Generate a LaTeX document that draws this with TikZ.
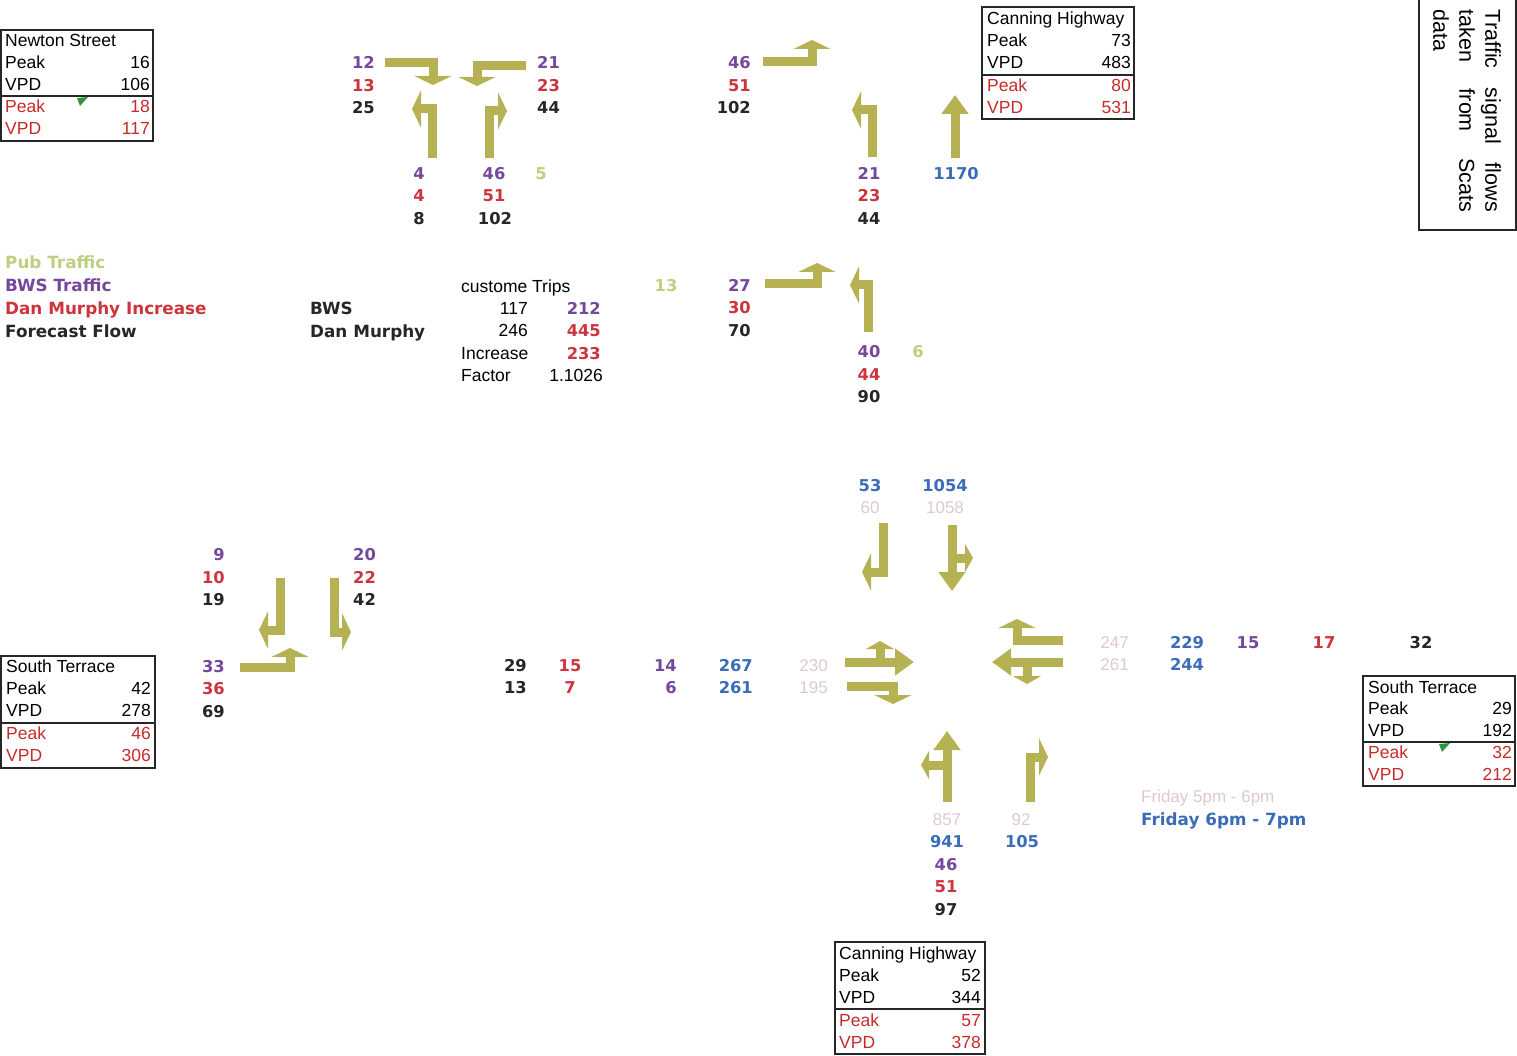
\documentclass[tikz,border=0pt]{standalone}
\usepackage{fontspec}
\setmainfont{Liberation Sans}
\newfontfamily\dejavu{DejaVu Sans}
\usepackage{tikz}
\usetikzlibrary{arrows.meta, positioning}
\usepackage{xcolor}
\definecolor{LaneOlive}{RGB}{182,178,84}
\definecolor{PubGreen}{RGB}{188,208,128}
\definecolor{BwsPurple}{RGB}{118,72,156}
\definecolor{DmRed}{RGB}{206,52,62}
\definecolor{FlowBlack}{RGB}{38,38,38}
\definecolor{ScatsBlue}{RGB}{58,108,186}
\definecolor{FadedPink}{RGB}{222,200,212}
\definecolor{BoxRed}{RGB}{200,42,42}
\definecolor{NoteGreen}{RGB}{40,150,60}

\begin{document}
\begin{tikzpicture}[
  x=1pt, y=-1pt,
  cell/.style={inner sep=0pt, text height=11pt, text depth=0pt},
  plain/.style={cell, font=\fontsize{17.5}{17.5}\selectfont, text=black},
  rplain/.style={plain, text=BoxRed},
  fig/.style={cell, font=\dejavu\bfseries\fontsize{16.3}{16.3}\selectfont},
  key/.style={fig, font=\dejavu\bfseries\fontsize{16.8}{16.8}\selectfont},
  pub/.style={fig, text=PubGreen},
  bws/.style={fig, text=BwsPurple},
  dm/.style={fig, text=DmRed},
  fc/.style={fig, text=FlowBlack},
  scats/.style={fig, text=ScatsBlue},
  old/.style={cell, font=\fontsize{17}{17}\selectfont, text=FadedPink},
  roadbox/.style={draw=black!85, line width=1.1pt},
  lane/.style={draw=LaneOlive, line width=9pt},
  turn/.style={lane, -{Triangle[length=9pt, width=37pt]}},
  branch/.style={lane, -{Triangle[length=8pt, width=28pt]}},
  thru/.style={lane, -{Triangle[length=19pt, width=26pt]}}
]
  \useasboundingbox (0,0) rectangle (1517,1056);

  % Newton Street box
  \draw[roadbox] (1,30) rectangle (153,141);
  \draw[roadbox] (1,96) -- (153,96);
  \node[plain, anchor=west] (nsName) at (5,41) {Newton Street};
  \node[plain, anchor=west] (nsPeak) at (5,63) {Peak};
  \node[plain, anchor=east] (nsPeakV) at (150,63) {16};
  \node[plain, anchor=west] (nsVpd) at (5,85) {VPD};
  \node[plain, anchor=east] (nsVpdV) at (150,85) {106};
  \node[rplain, anchor=west] (nsPeakR) at (5,107) {Peak};
  \node[rplain, anchor=east] (nsPeakRV) at (150,107) {18};
  \node[rplain, anchor=west] (nsVpdR) at (5,129) {VPD};
  \node[rplain, anchor=east] (nsVpdRV) at (150,129) {117};
  \fill[NoteGreen] (77,98) -- (88,97) -- (80,106) -- cycle;

  % Canning Highway box (north)
  \draw[roadbox] (982,7) rectangle (1134,119);
  \draw[roadbox] (982,75) -- (1134,75);
  \node[plain, anchor=west] (chnName) at (987,19) {Canning Highway};
  \node[plain, anchor=west] (chnPeak) at (987,41) {Peak};
  \node[plain, anchor=east] (chnPeakV) at (1131,41) {73};
  \node[plain, anchor=west] (chnVpd) at (987,63) {VPD};
  \node[plain, anchor=east] (chnVpdV) at (1131,63) {483};
  \node[rplain, anchor=west] (chnPeakR) at (987,86) {Peak};
  \node[rplain, anchor=east] (chnPeakRV) at (1131,86) {80};
  \node[rplain, anchor=west] (chnVpdR) at (987,108) {VPD};
  \node[rplain, anchor=east] (chnVpdRV) at (1131,108) {531};

  % Scats note
  \draw[roadbox] (1419,-5) rectangle (1516,230);
  \node[rotate=-90, inner sep=0pt, text width=202pt, align=left,
        font=\fontsize{21.5}{26}\selectfont] (scatsNote) at (1467,111)
    {Traffic\hfill signal\hfill flows\\ taken\hfill from\hfill Scats\\ data};

  % Legend
  \node[key, text=PubGreen, anchor=west] (legPub) at (5,263) {Pub Traffic};
  \node[key, text=BwsPurple, anchor=west] (legBws) at (5,286) {BWS Traffic};
  \node[key, text=DmRed, anchor=west] (legDm) at (5,309) {Dan Murphy Increase};
  \node[key, text=FlowBlack, anchor=west] (legFc) at (5,332) {Forecast Flow};

  % Trip table
  \node[key, text=FlowBlack, anchor=west] (tabBws) at (310,309) {BWS};
  \node[key, text=FlowBlack, anchor=west] (tabDm) at (310,332) {Dan Murphy};
  \node[plain, anchor=west] (tabHead) at (461,287) {custome Trips};
  \node[plain, anchor=east] (tabBwsCust) at (528,309) {117};
  \node[bws, anchor=east] (tabBwsTrip) at (601,309) {212};
  \node[plain, anchor=east] (tabDmCust) at (528,331) {246};
  \node[dm, anchor=east] (tabDmTrip) at (601,331) {445};
  \node[plain, anchor=west] (tabInc) at (461,354) {Increase};
  \node[dm, anchor=east] (tabIncV) at (601,354) {233};
  \node[plain, anchor=west] (tabFac) at (461,376) {Factor};
  \node[plain, anchor=east] (tabFacV) at (603,376) {1.1026};

  % Newton Street intersection
  \draw[turn] (385,63) -- (433,63) -- (433,85);
  \draw[turn] (526,66) -- (477,66) -- (477,86);
  \draw[turn] (432,158) -- (432,109) -- (412,109);
  \draw[turn] (489,158) -- (489,111) -- (507,111);
  \node[bws, anchor=east] (nwWestB) at (375,63) {12};
  \node[dm, anchor=east] (nwWestD) at (375,86) {13};
  \node[fc, anchor=east] (nwWestF) at (375,108) {25};
  \node[bws, anchor=west] (nwEastB) at (537,63) {21};
  \node[dm, anchor=west] (nwEastD) at (537,86) {23};
  \node[fc, anchor=west] (nwEastF) at (537,108) {44};
  \node[bws] (nwLeftB) at (419,174) {4};
  \node[dm] (nwLeftD) at (419,196) {4};
  \node[fc] (nwLeftF) at (419,219) {8};
  \node[bws] (nwRightB) at (494,174) {46};
  \node[dm] (nwRightD) at (494,196) {51};
  \node[fc] (nwRightF) at (495,219) {102};
  \node[pub] (nwRightP) at (541,174) {5};

  % Canning Highway north of site
  \draw[turn] (763,62) -- (812,62) -- (812,40);
  \draw[turn] (872,157) -- (872,110) -- (852,110);
  \draw[thru] (955,158) -- (955,95);
  \node[bws, anchor=east] (chInB) at (751,63) {46};
  \node[dm, anchor=east] (chInD) at (751,86) {51};
  \node[fc, anchor=east] (chInF) at (751,108) {102};
  \node[bws] (chOutB) at (869,174) {21};
  \node[dm] (chOutD) at (869,196) {23};
  \node[fc] (chOutF) at (869,219) {44};
  \node[scats] (chThru) at (956,174) {1170};

  % Site access
  \draw[turn] (765,284) -- (817,284) -- (817,263);
  \draw[turn] (868,332) -- (868,285) -- (850,285);
  \node[pub] (saInP) at (666,286) {13};
  \node[bws, anchor=east] (saInB) at (751,286) {27};
  \node[dm, anchor=east] (saInD) at (751,308) {30};
  \node[fc, anchor=east] (saInF) at (751,331) {70};
  \node[bws] (saOutB) at (869,352) {40};
  \node[dm] (saOutD) at (869,375) {44};
  \node[fc] (saOutF) at (869,397) {90};
  \node[pub] (saOutP) at (918,352) {6};

  % South Terrace west
  \draw[turn] (280,578) -- (280,630) -- (259,630);
  \draw[turn] (334,578) -- (334,632) -- (351,632);
  \draw[turn] (240,667) -- (290,667) -- (290,648);
  \node[bws, anchor=east] (swLeftB) at (225,555) {9};
  \node[dm, anchor=east] (swLeftD) at (225,578) {10};
  \node[fc, anchor=east] (swLeftF) at (225,600) {19};
  \node[bws, anchor=west] (swRightB) at (353,555) {20};
  \node[dm, anchor=west] (swRightD) at (353,578) {22};
  \node[fc, anchor=west] (swRightF) at (353,600) {42};
  \node[bws, anchor=east] (swInB) at (225,667) {33};
  \node[dm, anchor=east] (swInD) at (225,689) {36};
  \node[fc, anchor=east] (swInF) at (225,712) {69};

  % South Terrace box (west)
  \draw[roadbox] (1,656) rectangle (155,768);
  \draw[roadbox] (1,723) -- (155,723);
  \node[plain, anchor=west] (stwName) at (6,667) {South Terrace};
  \node[plain, anchor=west] (stwPeak) at (6,689) {Peak};
  \node[plain, anchor=east] (stwPeakV) at (151,689) {42};
  \node[plain, anchor=west] (stwVpd) at (6,711) {VPD};
  \node[plain, anchor=east] (stwVpdV) at (151,711) {278};
  \node[rplain, anchor=west] (stwPeakR) at (6,734) {Peak};
  \node[rplain, anchor=east] (stwPeakRV) at (151,734) {46};
  \node[rplain, anchor=west] (stwVpdR) at (6,756) {VPD};
  \node[rplain, anchor=east] (stwVpdRV) at (151,756) {306};

  % Signals: Canning Highway / South Terrace
  \draw[turn] (883,523) -- (883,572) -- (862,572);
  \draw[thru] (952,525) -- (952,591);
  \draw[branch] (952,558) -- (973,558);
  \draw[thru] (845,662) -- (914,662);
  \draw[branch] (880,662) -- (880,641);
  \draw[turn] (847,686) -- (893,686) -- (893,704);
  \draw[turn] (1063,640) -- (1017,640) -- (1017,619);
  \draw[thru] (1063,662) -- (992,662);
  \draw[branch] (1027,662) -- (1027,684);
  \draw[thru] (947,802) -- (947,731);
  \draw[branch] (947,765) -- (921,765);
  \draw[turn] (1030,802) -- (1030,757) -- (1048,757);

  \node[scats] (sgNorthL) at (870,486) {53};
  \node[old] (sgNorthLo) at (870,508) {60};
  \node[scats] (sgNorthT) at (945,486) {1054};
  \node[old] (sgNorthTo) at (945,508) {1058};

  \node[fc, anchor=east] (sgWestF1) at (527,666) {29};
  \node[dm] (sgWestD1) at (570,666) {15};
  \node[bws, anchor=east] (sgWestB1) at (677,666) {14};
  \node[scats, anchor=east] (sgWestS1) at (753,666) {267};
  \node[old, anchor=east] (sgWestO1) at (828,666) {230};
  \node[fc, anchor=east] (sgWestF2) at (527,688) {13};
  \node[dm] (sgWestD2) at (570,688) {7};
  \node[bws, anchor=east] (sgWestB2) at (677,688) {6};
  \node[scats, anchor=east] (sgWestS2) at (753,688) {261};
  \node[old, anchor=east] (sgWestO2) at (828,688) {195};

  \node[old, anchor=east] (sgEastO1) at (1129,643) {247};
  \node[scats] (sgEastS1) at (1187,643) {229};
  \node[bws] (sgEastB1) at (1248,643) {15};
  \node[dm] (sgEastD1) at (1324,643) {17};
  \node[fc] (sgEastF1) at (1421,643) {32};
  \node[old, anchor=east] (sgEastO2) at (1129,665) {261};
  \node[scats] (sgEastS2) at (1187,665) {244};

  \node[old] (sgSouthTo) at (947,820) {857};
  \node[scats] (sgSouthT) at (947,842) {941};
  \node[bws] (sgSouthB) at (946,865) {46};
  \node[dm] (sgSouthD) at (946,887) {51};
  \node[fc] (sgSouthF) at (946,910) {97};
  \node[old] (sgSouthRo) at (1021,820) {92};
  \node[scats] (sgSouthR) at (1022,842) {105};

  \node[old, anchor=west] (periodOld) at (1141,797) {Friday 5pm - 6pm};
  \node[key, text=ScatsBlue, anchor=west] (periodNew) at (1141,820) {Friday 6pm - 7pm};

  % South Terrace box (east)
  \draw[roadbox] (1363,676) rectangle (1515,786);
  \draw[roadbox] (1363,742) -- (1515,742);
  \node[plain, anchor=west] (steName) at (1368,688) {South Terrace};
  \node[plain, anchor=west] (stePeak) at (1368,709) {Peak};
  \node[plain, anchor=east] (stePeakV) at (1512,709) {29};
  \node[plain, anchor=west] (steVpd) at (1368,731) {VPD};
  \node[plain, anchor=east] (steVpdV) at (1512,731) {192};
  \node[rplain, anchor=west] (stePeakR) at (1368,753) {Peak};
  \node[rplain, anchor=east] (stePeakRV) at (1512,753) {32};
  \node[rplain, anchor=west] (steVpdR) at (1368,775) {VPD};
  \node[rplain, anchor=east] (steVpdRV) at (1512,775) {212};
  \fill[NoteGreen] (1439,744) -- (1450,743) -- (1442,752) -- cycle;

  % Canning Highway box (south)
  \draw[roadbox] (835,942) rectangle (985,1054);
  \draw[roadbox] (835,1009) -- (985,1009);
  \node[plain, anchor=west] (chsName) at (839,954) {Canning Highway};
  \node[plain, anchor=west] (chsPeak) at (839,976) {Peak};
  \node[plain, anchor=east] (chsPeakV) at (981,976) {52};
  \node[plain, anchor=west] (chsVpd) at (839,998) {VPD};
  \node[plain, anchor=east] (chsVpdV) at (981,998) {344};
  \node[rplain, anchor=west] (chsPeakR) at (839,1021) {Peak};
  \node[rplain, anchor=east] (chsPeakRV) at (981,1021) {57};
  \node[rplain, anchor=west] (chsVpdR) at (839,1043) {VPD};
  \node[rplain, anchor=east] (chsVpdRV) at (981,1043) {378};
\end{tikzpicture}
\end{document}
